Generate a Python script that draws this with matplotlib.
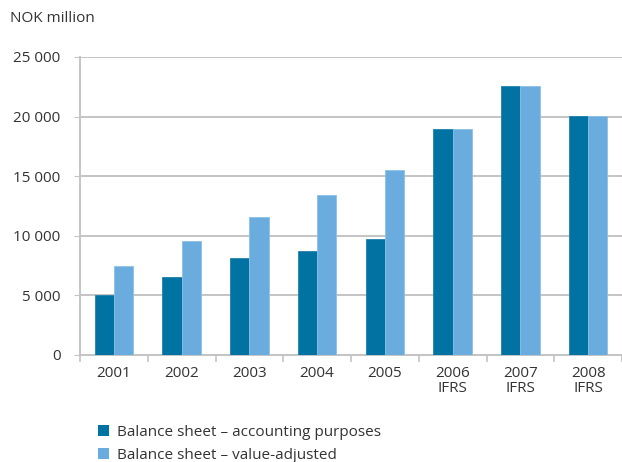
import matplotlib
matplotlib.use("Agg")
import matplotlib.pyplot as plt
from matplotlib.patches import Patch
import numpy as np

years = ["2001", "2002", "2003", "2004", "2005", "2006\nIFRS", "2007\nIFRS", "2008\nIFRS"]
accounting = [5050, 6520, 8120, 8760, 9720, 18980, 22570, 20070]
value_adj = [7470, 9600, 11570, 13390, 15550, 18980, 22570, 20070]
yticks = [0, 5000, 10000, 15000, 20000, 25000]

DARK = "#0073a3"
LIGHT = "#69acdd"
TXT = "#333333"
GRID = "#c4c4c4"

plt.rcParams["font.family"] = ["Open Sans", "DejaVu Sans"]

fig = plt.figure(figsize=(6.22, 4.62), dpi=100)
ax = fig.add_axes([80 / 622, 1 - 355 / 462, 1 - 80 / 622, (355 - 57) / 462])

x = np.arange(len(years))
w = 0.285
ax.bar(x - w / 2, accounting, w, color=DARK, edgecolor="#1f82ad", lw=0.6, zorder=3)
ax.bar(x + w / 2, value_adj, w, color=LIGHT, edgecolor="#8cc1e6", lw=0.6, zorder=3)

ax.set_ylim(0, 25000)
ax.set_xlim(-0.5, 7.37)
ax.set_yticks(yticks)
ax.set_yticklabels([f"{v:,}".replace(",", " ") for v in yticks], color=TXT, fontsize=11)
ax.yaxis.grid(True, color=GRID, lw=1.4, zorder=0)
ax.tick_params(axis="y", length=4, color=GRID, pad=10)

# boundary ticks between categories, labels at centres
ax.set_xticks(np.arange(-0.5, len(years), 1.0))
ax.set_xticklabels([])
ax.set_xticks(x, minor=True)
ax.set_xticklabels(years, minor=True, color=TXT, fontsize=11, linespacing=0.95)
ax.tick_params(axis="x", which="major", length=5, color=GRID, width=1.2)
ax.tick_params(axis="x", which="minor", length=0, pad=8)

for s in ["top", "right"]:
    ax.spines[s].set_visible(False)
ax.spines["left"].set_color(GRID)
ax.spines["left"].set_linewidth(1.4)
ax.spines["bottom"].set_color(GRID)
ax.spines["bottom"].set_linewidth(1.4)

fig.text(10 / 622, 1 - 18 / 462, "NOK million", color=TXT, fontsize=11, va="center", ha="left")

handles = [Patch(facecolor=DARK, label="Balance sheet \u2013 accounting purposes"),
           Patch(facecolor=LIGHT, label="Balance sheet \u2013 value-adjusted")]
fig.legend(handles=handles, loc="upper left", bbox_to_anchor=(84 / 622, 1 - 411 / 462),
           frameon=False, fontsize=11, handlelength=0.75, handleheight=0.75,
           handletextpad=0.5, labelspacing=0.55, labelcolor=TXT)

fig.savefig("out.png", dpi=100, facecolor="white")
